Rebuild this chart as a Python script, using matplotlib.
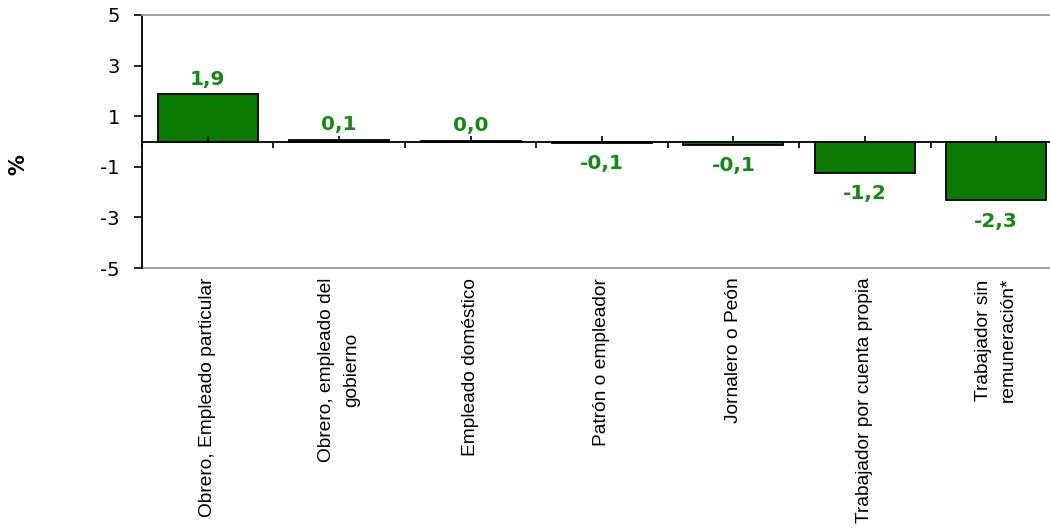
import matplotlib
matplotlib.use("Agg")
import matplotlib.pyplot as plt
from matplotlib import font_manager
import numpy as np

categories = [
    "Obrero, Empleado particular",
    "Obrero, empleado del\ngobierno",
    "Empleado doméstico",
    "Patrón o empleador",
    "Jornalero o Peón",
    "Trabajador por cuenta propia",
    "Trabajador sin\nremuneración*",
]
values = [1.86, 0.06, 0.03, -0.07, -0.12, -1.24, -2.33]
labels = ["1,9", "0,1", "0,0", "-0,1", "-0,1", "-1,2", "-2,3"]
yticks = [-5, -3, -1, 1, 3, 5]

BAR = "#0B7B00"
LAB = "#138A13"

try:
    font_manager.findfont(font_manager.FontProperties(family="Liberation Sans Narrow"),
                          fallback_to_default=False)
    CAT_FAMILY, CAT_SIZE = "Liberation Sans Narrow", 17.0
except Exception:
    CAT_FAMILY, CAT_SIZE = "Liberation Sans", 13.8

W, H = 1050, 529
fig = plt.figure(figsize=(W / 100, H / 100), dpi=100)
left, right, top, bottom = 142, 1062, 15, 268
ax = fig.add_axes([left / W, 1 - bottom / H, (right - left) / W, (bottom - top) / H])

x = np.arange(len(categories))
bars = ax.bar(x, values, width=0.76, color=BAR, edgecolor="black", linewidth=1.3, zorder=2)

ax.set_xlim(-0.5, len(categories) - 0.5)
ax.set_ylim(-5, 5)
ax.set_yticks(yticks)
ax.set_yticklabels([str(t) for t in yticks], fontsize=14, family="DejaVu Sans")
ax.tick_params(axis="y", direction="out", length=6, width=1.2, pad=10)

# spines
ax.spines["left"].set_color("black")
ax.spines["left"].set_linewidth(1.3)
ax.spines["top"].set_color("#999999")
ax.spines["top"].set_linewidth(1.3)
ax.spines["right"].set_color("#999999")
ax.spines["bottom"].set_position(("data", 0))
ax.spines["bottom"].set_color("black")
ax.spines["bottom"].set_linewidth(1.3)
ax.spines["bottom"].set_zorder(4)
ax.xaxis.set_zorder(4)

# category axis ticks on the zero line
ax.set_xticks(np.arange(len(categories) + 1) - 0.5)
ax.set_xticklabels([])
ax.set_xticks(x, minor=True)
ax.tick_params(axis="x", which="major", direction="out", length=4, width=1.2)
ax.tick_params(axis="x", which="minor", direction="in", length=4, width=1.2)

# gray bottom border with category labels
sec = ax.secondary_xaxis(0.0)
sec.set_xticks(x)
sec.set_xticklabels(categories, rotation=90, fontsize=CAT_SIZE, family=CAT_FAMILY,
                    va="top", ha="center", linespacing=1.6, multialignment="center")
sec.tick_params(length=0, pad=7)
sec.spines["bottom"].set_color("#999999")
sec.spines["bottom"].set_linewidth(1.3)

for b, v, lab in zip(bars, values, labels):
    if v >= 0:
        ax.annotate(lab, (b.get_x() + b.get_width() / 2, v), xytext=(0, 4),
                    textcoords="offset points", ha="center", va="bottom",
                    color=LAB, fontsize=14.5, fontweight="bold", family="DejaVu Sans")
    else:
        ax.annotate(lab, (b.get_x() + b.get_width() / 2, v), xytext=(0, -8),
                    textcoords="offset points", ha="center", va="top",
                    color=LAB, fontsize=14.5, fontweight="bold", family="DejaVu Sans")

fig.text(18 / W, 1 - 165 / H, "%", rotation=90, ha="center", va="center",
         fontsize=15, fontweight="bold", family="DejaVu Sans")

fig.savefig("out.png", dpi=100)
